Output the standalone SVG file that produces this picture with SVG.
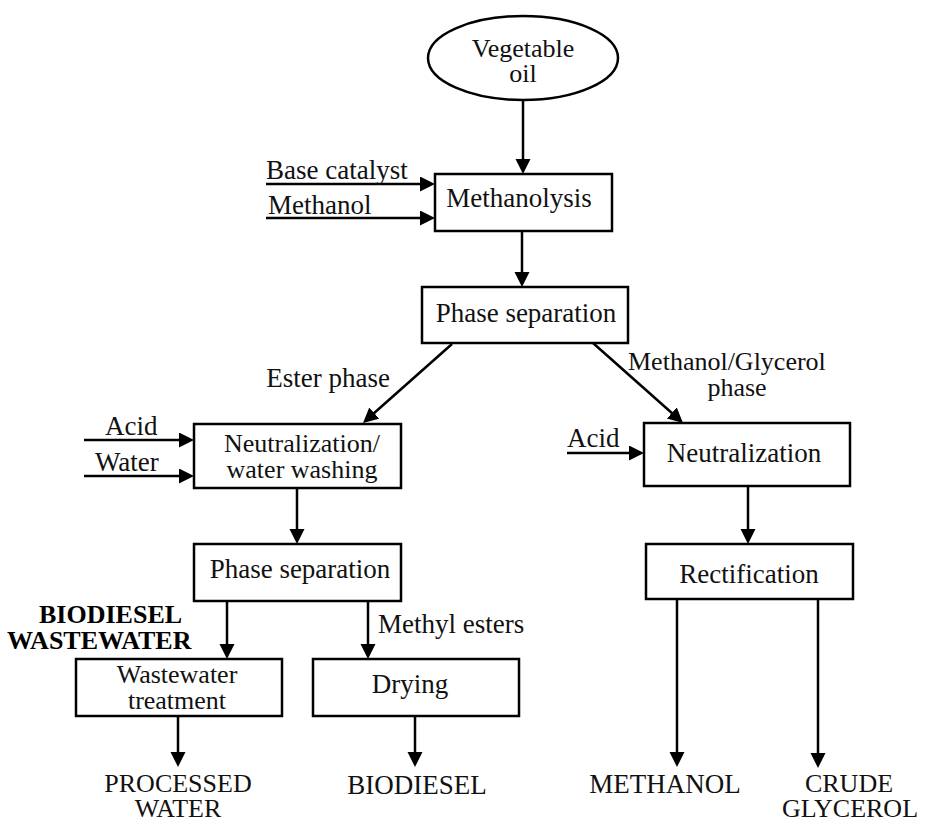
<svg xmlns="http://www.w3.org/2000/svg" width="925" height="821" viewBox="0 0 925 821">
<defs>
<marker id="ah" markerUnits="userSpaceOnUse" markerWidth="17" markerHeight="17" refX="11" refY="7.5" orient="auto">
<path d="M0,0 L15,7.5 L0,15 z" fill="#000"/>
</marker>
<style>
text{font-family:"Liberation Serif","Times New Roman",serif;font-size:27px;fill:#111}
.c{text-anchor:middle}
.s{font-size:26px}
.b{font-weight:bold;fill:#000}
.box{fill:#fff;stroke:#000;stroke-width:2.5}
.ln{fill:none;stroke:#000;stroke-width:2.5;marker-end:url(#ah)}
</style>
</defs>
<rect width="925" height="821" fill="#fff"/>
<g id="connectors">
<line class="ln" x1="523" y1="100" x2="523" y2="170"/>
<line class="ln" x1="266" y1="184" x2="431" y2="184"/>
<line class="ln" x1="266" y1="218" x2="431" y2="218"/>
<line class="ln" x1="522" y1="231" x2="522" y2="283"/>
<line class="ln" x1="452" y1="344" x2="366" y2="420.3"/>
<line class="ln" x1="593" y1="343" x2="680" y2="420.3"/>
<line class="ln" x1="84" y1="440" x2="190" y2="440"/>
<line class="ln" x1="84" y1="476" x2="190" y2="476"/>
<line class="ln" x1="297" y1="488" x2="297" y2="540"/>
<line class="ln" x1="567" y1="453" x2="640" y2="453"/>
<line class="ln" x1="748" y1="486" x2="748" y2="540"/>
<line class="ln" x1="227" y1="601" x2="227" y2="655"/>
<line class="ln" x1="368" y1="601" x2="368" y2="655"/>
<line class="ln" x1="178" y1="716" x2="178" y2="763"/>
<line class="ln" x1="415" y1="716" x2="415" y2="763"/>
<line class="ln" x1="677" y1="599" x2="677" y2="763"/>
<line class="ln" x1="818" y1="599" x2="818" y2="764"/>
</g>
<g id="vegetable-oil">
<ellipse cx="523" cy="58" rx="95" ry="42" fill="#fff" stroke="#000" stroke-width="2.5"/>
<text class="c s" x="523" y="57">Vegetable</text>
<text class="c s" x="523" y="82">oil</text>
</g>
<g id="methanolysis">
<rect class="box" x="435" y="174" width="177" height="57"/>
<text class="c" x="519" y="207">Methanolysis</text>
</g>
<g id="phase-separation-1">
<rect class="box" x="422" y="287" width="206" height="56"/>
<text class="c" x="526" y="322">Phase separation</text>
</g>
<g id="neutralization-washing">
<rect class="box" x="194" y="424" width="207" height="64"/>
<text class="c s" x="302" y="452">Neutralization/</text>
<text class="c s" x="302" y="478">water washing</text>
</g>
<g id="neutralization">
<rect class="box" x="644" y="423" width="206" height="63"/>
<text class="c" x="744" y="462">Neutralization</text>
</g>
<g id="rectification">
<rect class="box" x="646" y="544" width="207" height="55"/>
<text class="c" x="749" y="583">Rectification</text>
</g>
<g id="phase-separation-2">
<rect class="box" x="194" y="544" width="207" height="57"/>
<text class="c" x="300" y="578">Phase separation</text>
</g>
<g id="wastewater-treatment">
<rect class="box" x="76" y="659" width="206" height="57"/>
<text class="c s" x="177" y="683">Wastewater</text>
<text class="c s" x="177" y="709">treatment</text>
</g>
<g id="drying">
<rect class="box" x="313" y="659" width="206" height="57"/>
<text class="c" x="410" y="693">Drying</text>
</g>
<g id="labels">
<text x="266" y="179">Base catalyst</text>
<text x="268" y="214">Methanol</text>
<text x="390" y="387" text-anchor="end">Ester phase</text>
<text class="s" x="628" y="370">Methanol/Glycerol</text>
<text class="c s" x="737" y="396">phase</text>
<text x="105" y="435">Acid</text>
<text x="95" y="471">Water</text>
<text x="567" y="447">Acid</text>
<text class="b s" x="39" y="623">BIODIESEL</text>
<text class="b s" x="7" y="649">WASTEWATER</text>
<text x="378" y="633">Methyl esters</text>
</g>
<g id="outputs">
<text class="c s" x="178" y="792">PROCESSED</text>
<text class="c s" x="178" y="817">WATER</text>
<text class="c" x="417" y="794">BIODIESEL</text>
<text class="c" x="665" y="793">METHANOL</text>
<text class="c s" x="849" y="792">CRUDE</text>
<text class="c s" x="850" y="817">GLYCEROL</text>
</g>
</svg>
